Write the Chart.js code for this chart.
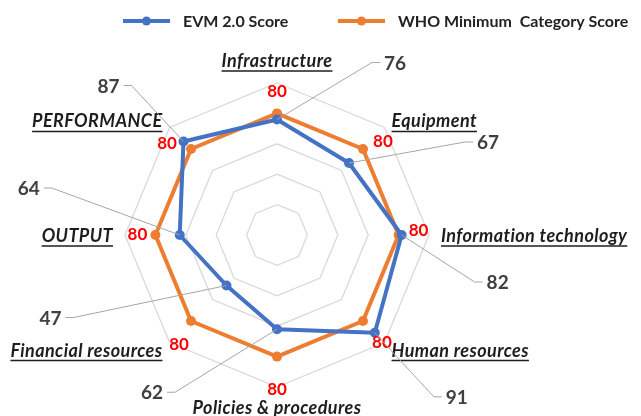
<!DOCTYPE html>
<html>
<head>
<meta charset="utf-8">
<script src="https://cdn.jsdelivr.net/npm/chart.js@4/dist/chart.umd.min.js"></script>
<style>
  html, body { margin: 0; padding: 0; background: #ffffff; }
  #wrap { width: 641px; height: 416px; }
</style>
</head>
<body>
<div id="wrap"><canvas id="radar" width="641" height="416"></canvas></div>
<script>
// Categories around the radar, clockwise from the top
const categories = [
  'Infrastructure',
  'Equipment',
  'Information technology',
  'Human resources',
  'Policies & procedures',
  'Financial resources',
  'OUTPUT',
  'PERFORMANCE'
];

// Scores per category
const evmScores = [76, 67, 82, 91, 62, 47, 64, 87];
const whoMinimumScores = [80, 80, 80, 80, 80, 80, 80, 80];

const seriesNames = ['EVM 2.0 Score', 'WHO Minimum  Category Score'];

// Radial scale ticks (gridline rings)
const scaleTicks = [0, 20, 40, 60, 80, 100];

const BLUE = '#4472C4';
const ORANGE = '#ED7D31';
const FONT = 'Lato, "Liberation Sans", Arial, sans-serif';

// Label placement (pixel nudges relative to each point)
const whoLabelNudge = [[0, -22], [20, -8], [20, -4], [19, 22], [0, 33], [-12, 24], [-18, 0], [-24, -6]];
const evmCalloutNudge = [[118, -57], [139, -21], [96, 47], [82, 64], [-125, 63], [-176, 32], [-151, -47], [-75, -56]];

function pointOf(chart, dsIndex, i) {
  return chart.getDatasetMeta(dsIndex).data[i].getProps(['x', 'y'], true);
}

// Category names, value labels and callouts
const annotations = {
  id: 'annotations',
  afterDatasetsDraw(chart) {
    const ctx = chart.ctx;
    const s = chart.scales.r;
    ctx.save();

    // category names (bold italic, underlined)
    const catSize = 18;
    ctx.font = `italic bold ${catSize}px ${FONT}`;
    if ('letterSpacing' in ctx) ctx.letterSpacing = '0.4px';
    ctx.fillStyle = '#1e1e1e';
    ctx.strokeStyle = '#1e1e1e';
    ctx.lineWidth = 1.4;
    const cap = ctx.measureText('H').actualBoundingBoxAscent;
    categories.forEach((label, i) => {
      const probe = s.getPointPosition(i, s.drawingArea);
      const c = Math.cos(probe.angle), sn = Math.sin(probe.angle);
      const vertical = Math.abs(c) < 0.05;
      const horizontal = Math.abs(sn) < 0.05;
      const pad = vertical ? (sn < 0 ? 16 : 13) : (horizontal ? 12 : 10);
      const p = s.getPointPosition(i, s.drawingArea + pad);
      const align = vertical ? 'center' : (c > 0 ? 'left' : 'right');
      let baseY;
      if (vertical) baseY = sn < 0 ? p.y : p.y + cap;
      else baseY = p.y + cap / 2;
      ctx.textAlign = align;
      ctx.textBaseline = 'alphabetic';
      ctx.fillText(label, p.x, baseY);
      const w = ctx.measureText(label).width;
      const x0 = align === 'left' ? p.x : (align === 'right' ? p.x - w : p.x - w / 2);
      ctx.beginPath();
      ctx.moveTo(x0, baseY + 4);
      ctx.lineTo(x0 + w, baseY + 4);
      ctx.stroke();
    });
    if ('letterSpacing' in ctx) ctx.letterSpacing = '0px';

    // red value labels on the WHO minimum series
    ctx.font = `bold 17px ${FONT}`;
    ctx.fillStyle = '#ff0000';
    ctx.textAlign = 'center';
    ctx.textBaseline = 'middle';
    whoMinimumScores.forEach((v, i) => {
      const p = pointOf(chart, 1, i);
      ctx.fillText(String(v), p.x + whoLabelNudge[i][0], p.y + whoLabelNudge[i][1]);
    });

    // EVM score callouts with leader lines
    ctx.font = `bold 19px ${FONT}`;
    evmScores.forEach((v, i) => {
      const p = pointOf(chart, 0, i);
      const tx = p.x + evmCalloutNudge[i][0];
      const ty = p.y + evmCalloutNudge[i][1];
      const text = String(v);
      const w = ctx.measureText(text).width;
      const dir = tx > p.x ? -1 : 1;
      const sx = tx + dir * (w / 2 + 4);
      ctx.strokeStyle = '#a6a6a6';
      ctx.lineWidth = 1;
      ctx.beginPath();
      ctx.moveTo(sx, ty);
      ctx.lineTo(sx + dir * 8, ty);
      ctx.lineTo(p.x, p.y);
      ctx.stroke();
      ctx.fillStyle = '#404040';
      ctx.fillText(text, tx, ty + 1);
    });
    ctx.restore();
  },
  // legend across the top
  afterDraw(chart) {
    const ctx = chart.ctx;
    const y = 21;
    const starts = [123, 338];
    ctx.save();
    ctx.font = `bold 16px ${FONT}`;
    ctx.textAlign = 'left';
    ctx.textBaseline = 'middle';
    chart.data.datasets.forEach((ds, k) => {
      const x = starts[k];
      ctx.strokeStyle = ds.borderColor;
      ctx.lineWidth = 4;
      ctx.beginPath();
      ctx.moveTo(x, y);
      ctx.lineTo(x + 47, y);
      ctx.stroke();
      ctx.fillStyle = ds.borderColor;
      ctx.beginPath();
      ctx.arc(x + 23.5, y, 4.5, 0, Math.PI * 2);
      ctx.fill();
      ctx.fillStyle = '#222222';
      ctx.fillText(ds.label, x + 60, y + 1);
    });
    ctx.restore();
  }
};

new Chart(document.getElementById('radar'), {
  type: 'radar',
  data: {
    labels: categories,
    datasets: [
      {
        label: seriesNames[0],
        data: evmScores,
        borderColor: BLUE,
        backgroundColor: BLUE,
        pointBackgroundColor: BLUE,
        pointBorderColor: BLUE,
        borderWidth: 4,
        pointRadius: 5,
        pointBorderWidth: 0,
        fill: false
      },
      {
        label: seriesNames[1],
        data: whoMinimumScores,
        borderColor: ORANGE,
        backgroundColor: ORANGE,
        pointBackgroundColor: ORANGE,
        pointBorderColor: ORANGE,
        borderWidth: 4,
        pointRadius: 5,
        pointBorderWidth: 0,
        fill: false
      }
    ]
  },
  options: {
    responsive: false,
    animation: false,
    devicePixelRatio: 1,
    layout: { padding: { left: 125, right: 212, top: 83, bottom: 29 } },
    elements: { line: { tension: 0, borderJoinStyle: 'round' } },
    plugins: { legend: { display: false }, tooltip: { enabled: false } },
    scales: {
      r: {
        min: scaleTicks[0],
        max: scaleTicks[scaleTicks.length - 1],
        ticks: { display: false, stepSize: scaleTicks[1] - scaleTicks[0] },
        grid: { color: '#d9d9d9', lineWidth: 1.3, circular: false },
        angleLines: { display: false },
        pointLabels: { display: false }
      }
    }
  },
  plugins: [annotations]
});
</script>
</body>
</html>
